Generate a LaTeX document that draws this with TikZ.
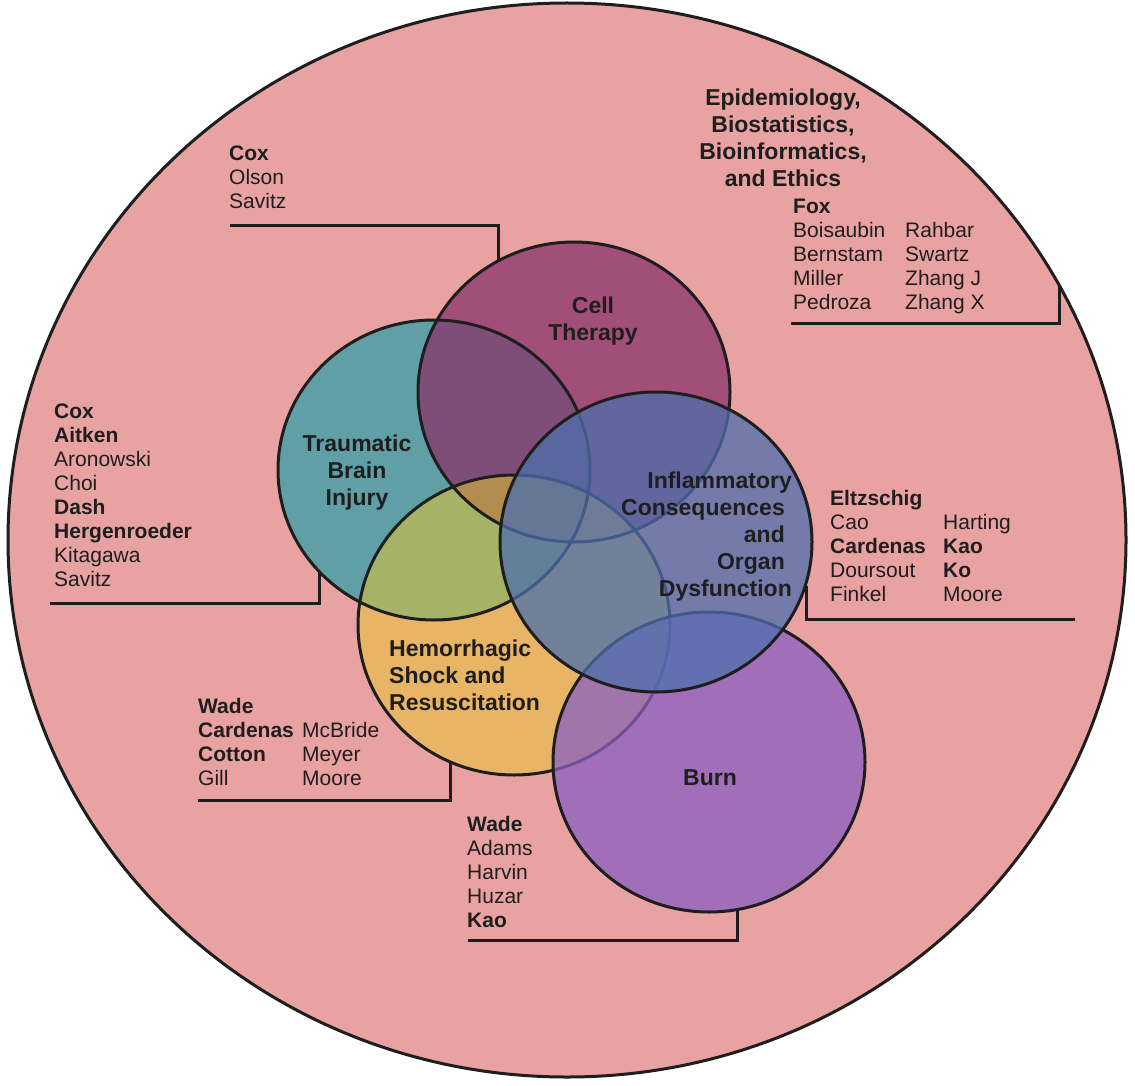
\documentclass[tikz,border=0pt]{standalone}
\usepackage{fontspec}
\setmainfont{Liberation Sans}
\usepackage{array}
\definecolor{bgpink}{RGB}{233,162,162}
\definecolor{cellc}{RGB}{137,51,106}
\definecolor{tbic}{RGB}{49,159,167}
\definecolor{hemc}{RGB}{232,187,81}
\definecolor{hemtbic}{RGB}{190,187,83}
\definecolor{hemtripc}{RGB}{198,161,64}
\definecolor{infc}{RGB}{77,111,173}
\definecolor{burnc}{RGB}{138,95,194}
\definecolor{ink}{RGB}{30,30,30}
\tikzset{
  venn/.style={line width=3pt, draw=ink, fill opacity=0.75, draw opacity=1},
  vennfill/.style={fill opacity=0.75},
  outline/.style={line width=3pt, draw=ink},
  lbl/.style={font=\fontsize{23}{27}\selectfont\bfseries, inner sep=0pt, text=ink},
  names/.style={font=\fontsize{21}{24}\selectfont, inner sep=0pt, anchor=base west, text=ink},
  conn/.style={line width=3pt, draw=ink},
}
\begin{document}
\begin{tikzpicture}[x=1pt,y=-1pt]
\useasboundingbox (0,0) rectangle (1135,1086);
\fill[white] (0,0) rectangle (1135,1086);
% outer circle
\draw[line width=3pt, draw=ink, fill=bgpink] (567,540) ellipse [x radius=559pt, y radius=537pt];
% fills of TBI, Cell, Hem
\fill[vennfill, tbic] (434,470) ellipse [x radius=156pt, y radius=150pt];
\fill[vennfill, cellc] (574,392) ellipse [x radius=156pt, y radius=150pt];
\begin{scope}
  \clip (514,625) ellipse [x radius=156pt, y radius=150pt];
  \fill[vennfill, hemc, even odd rule] (514,625) ellipse [x radius=156pt, y radius=150pt]
                                       (434,470) ellipse [x radius=156pt, y radius=150pt];
\end{scope}
\begin{scope}
  \clip (434,470) ellipse [x radius=156pt, y radius=150pt];
  \begin{scope}
    \clip (514,625) ellipse [x radius=156pt, y radius=150pt];
    \fill[vennfill, hemtbic, even odd rule] (514,625) ellipse [x radius=156pt, y radius=150pt]
                                            (574,392) ellipse [x radius=156pt, y radius=150pt];
  \end{scope}
  \begin{scope}
    \clip (574,392) ellipse [x radius=156pt, y radius=150pt];
    \fill[vennfill, hemtripc] (514,625) ellipse [x radius=156pt, y radius=150pt];
  \end{scope}
\end{scope}
\draw[outline] (434,470) ellipse [x radius=156pt, y radius=150pt];
\draw[outline] (574,392) ellipse [x radius=156pt, y radius=150pt];
\draw[outline] (514,625) ellipse [x radius=156pt, y radius=150pt];
% Burn and Inflammatory
\draw[venn, fill=burnc] (709,762) ellipse [x radius=156pt, y radius=150pt];
\draw[venn, fill=infc] (656,542) ellipse [x radius=156pt, y radius=150pt];

% connector coordinates
\coordinate (k1a) at (230,226); \coordinate (k1b) at (498,226); \coordinate (k1c) at (498,261);
\coordinate (k2a) at (791,323); \coordinate (k2b) at (1059,323); \coordinate (k2c) at (1059,285);
\coordinate (k3a) at (50,603); \coordinate (k3b) at (319,603); \coordinate (k3c) at (319,571);
\coordinate (k4a) at (1075,619); \coordinate (k4b) at (806,619); \coordinate (k4c) at (806,586);
\coordinate (k5a) at (198,800); \coordinate (k5b) at (450,800); \coordinate (k5c) at (450,762);
\coordinate (k6a) at (468,940); \coordinate (k6b) at (737,940); \coordinate (k6c) at (737,910);
\draw[conn] (k1a) -- (k1b) -- (k1c);
\draw[conn] (k2a) -- (k2b) -- (k2c);
\draw[conn] (k3a) -- (k3b) -- (k3c);
\draw[conn] (k4a) -- (k4b) -- (k4c);
\draw[conn] (k5a) -- (k5b) -- (k5c);
\draw[conn] (k6a) -- (k6b) -- (k6c);

% circle labels
\node[lbl] (lcell) at (593,322) {\begin{tabular}{@{}c@{}}Cell\\Therapy\end{tabular}};
\node[lbl] (ltbi) at (357,473) {\begin{tabular}{@{}c@{}}Traumatic\\Brain\\Injury\end{tabular}};
\node[lbl, anchor=east] (linf) at (792,537) {\begin{tabular}{@{}r@{}}Inflammatory\\Consequences\hspace*{7pt}\\and\hspace*{7pt}\\Organ\hspace*{7pt}\\Dysfunction\end{tabular}};
\node[lbl, anchor=west] (lhem) at (389,678) {\begin{tabular}{@{}l@{}}Hemorrhagic\\Shock and\\Resuscitation\end{tabular}};
\node[lbl] (lburn) at (710,778) {Burn};
\node[lbl] (lepi) at (783,141) {\begin{tabular}{@{}c@{}}Epidemiology,\\Biostatistics,\\Bioinformatics,\\and Ethics\end{tabular}};

% name lists
\node[names] (ncell) at (229,160.5) {\begin{tabular}[t]{@{}l@{}}\textbf{Cox}\\Olson\\Savitz\end{tabular}};
\node[names] (nepi) at (793,213.5) {\begin{tabular}[t]{@{}p{112pt}@{}l@{}}\textbf{Fox} & \\Boisaubin & Rahbar\\Bernstam & Swartz\\Miller & Zhang J\\Pedroza & Zhang X\end{tabular}};
\node[names] (ntbi) at (54,418.5) {\begin{tabular}[t]{@{}l@{}}\textbf{Cox}\\\textbf{Aitken}\\Aronowski\\Choi\\\textbf{Dash}\\\textbf{Hergenroeder}\\Kitagawa\\Savitz\end{tabular}};
\node[names] (ninf) at (830,505.5) {\begin{tabular}[t]{@{}p{113pt}@{}l@{}}\textbf{Eltzschig} & \\Cao & Harting\\\textbf{Cardenas} & \textbf{Kao}\\Doursout & \textbf{Ko}\\Finkel & Moore\end{tabular}};
\node[names] (nhem) at (198,713.5) {\begin{tabular}[t]{@{}p{104pt}@{}l@{}}\textbf{Wade} & \\\textbf{Cardenas} & McBride\\\textbf{Cotton} & Meyer\\Gill & Moore\end{tabular}};
\node[names] (nburn) at (467,831.5) {\begin{tabular}[t]{@{}l@{}}\textbf{Wade}\\Adams\\Harvin\\Huzar\\\textbf{Kao}\end{tabular}};
\end{tikzpicture}
\end{document}
